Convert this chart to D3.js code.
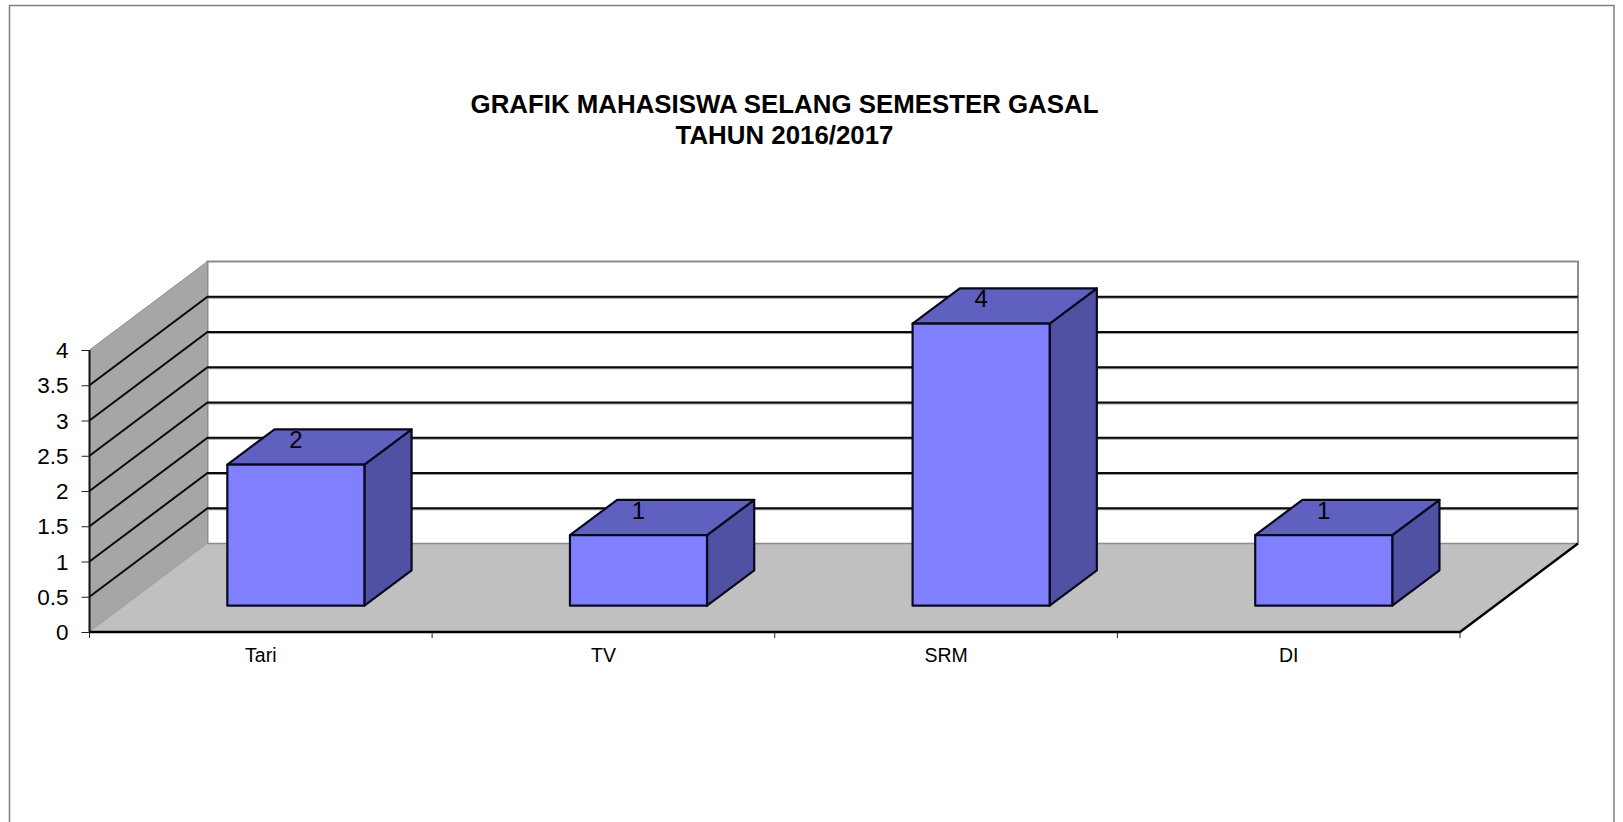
<!DOCTYPE html>
<html>
<head>
<meta charset="utf-8">
<script src="https://cdn.jsdelivr.net/npm/d3@7"></script>
<style>
  html, body { margin: 0; padding: 0; background: #fff; overflow: hidden; }
  svg { display: block; font-family: "Liberation Sans", Arial, sans-serif; }
</style>
</head>
<body>
<svg id="chart"></svg>
<script>
// Chart data
const categories = ['Tari', 'TV', 'SRM', 'DI'];
const values = [2, 1, 4, 1];
const yTicks = [0, 0.5, 1, 1.5, 2, 2.5, 3, 3.5, 4];
const titleLines = ['GRAFIK MAHASISWA SELANG SEMESTER GASAL', 'TAHUN 2016/2017'];

const WIDTH = 1623, HEIGHT = 822;

// Front plane of the plot and the oblique depth of the 3D box
const plot = { left: 89.5, right: 1460, top: 350, bottom: 632 };
const DEPTH = { x: 118, y: -88.5 };
const BAR_FRONT = 0.297, BAR_DEPTH = 0.4;

const svg = d3.select('#chart')
  .attr('width', WIDTH)
  .attr('height', HEIGHT)
  .attr('viewBox', `0 0 ${WIDTH} ${HEIGHT}`);

const x = d3.scaleBand().domain(categories).range([plot.left, plot.right]);
const y = d3.scaleLinear().domain([0, 4]).range([plot.bottom, plot.top]);
const line = d3.line();

// Outer chart frame, the bottom edge falls outside the picture
svg.append('path')
  .attr('d', line([[9.5, HEIGHT], [9.5, 5.5], [1614, 5.5], [1614, HEIGHT]]))
  .attr('fill', 'none')
  .attr('stroke', '#808080')
  .attr('stroke-width', 1.5);

// Title
svg.append('text')
  .attr('text-anchor', 'middle')
  .attr('font-size', 25.85)
  .attr('font-weight', 'bold')
  .attr('fill', '#000')
  .selectAll('tspan')
  .data(titleLines)
  .enter().append('tspan')
  .attr('x', 784.5)
  .attr('y', (d, i) => 112.7 + i * 31)
  .text(d => d);

// Back wall
const back = { left: plot.left + DEPTH.x, right: plot.right + DEPTH.x };
svg.append('path')
  .attr('d', line([
    [back.left, y(0) + DEPTH.y], [back.left, y(4) + DEPTH.y],
    [back.right, y(4) + DEPTH.y], [back.right, y(0) + DEPTH.y]
  ]))
  .attr('fill', '#fff')
  .attr('stroke', '#8c8c8c')
  .attr('stroke-width', 2);

// Side wall
svg.append('path')
  .attr('d', line([
    [plot.left, y(0)], [plot.left, y(4)],
    [back.left, y(4) + DEPTH.y], [back.left, y(0) + DEPTH.y]
  ]) + 'Z')
  .attr('fill', '#a6a6a6')
  .attr('stroke', '#8c8c8c')
  .attr('stroke-width', 1);

// Floor
svg.append('path')
  .attr('d', line([
    [plot.left, y(0)], [back.left, y(0) + DEPTH.y],
    [back.right, y(0) + DEPTH.y], [plot.right, y(0)]
  ]) + 'Z')
  .attr('fill', '#c0c0c0');

svg.append('path')
  .attr('d', line([[back.left, y(0) + DEPTH.y], [back.right, y(0) + DEPTH.y]]))
  .attr('stroke', '#8c8c8c')
  .attr('stroke-width', 1.5);

// Gridlines run along the side wall and then the back wall,
// the back part has a soft grey edge under the black line
const gridTicks = yTicks.filter(d => d > 0 && d < 4);

svg.append('g')
  .selectAll('path')
  .data(gridTicks)
  .enter().append('path')
  .attr('d', d => line([[back.left, y(d) + DEPTH.y + 0.7], [back.right, y(d) + DEPTH.y + 0.7]]))
  .attr('stroke', '#999')
  .attr('stroke-width', 2.4);

svg.append('g')
  .selectAll('path')
  .data(gridTicks)
  .enter().append('path')
  .attr('d', d => line([
    [plot.left, y(d)], [back.left, y(d) + DEPTH.y], [back.right, y(d) + DEPTH.y]
  ]))
  .attr('fill', 'none')
  .attr('stroke', '#0a0a0a')
  .attr('stroke-width', 2);

// Outer floor edges
svg.append('path')
  .attr('d', line([[plot.left, y(0)], [plot.right, y(0)], [back.right, y(0) + DEPTH.y]]))
  .attr('fill', 'none')
  .attr('stroke', '#000')
  .attr('stroke-width', 2.4);

svg.append('path')
  .attr('d', line([[plot.left, y(4)], [plot.left, y(0)]]))
  .attr('stroke', '#111')
  .attr('stroke-width', 2);

// Bars, each one with front, top and side faces
const bw = x.bandwidth() * 0.4;
const barX = d => x(d) + (x.bandwidth() - bw) / 2 + DEPTH.x * BAR_FRONT;
const baseY = y(0) + DEPTH.y * BAR_FRONT;
const dx = DEPTH.x * BAR_DEPTH, dy = DEPTH.y * BAR_DEPTH;
const barTop = v => baseY - (y(0) - y(v));

const bars = svg.append('g')
  .selectAll('g')
  .data(categories.map((c, i) => ({ name: c, value: values[i] })))
  .enter().append('g')
  .attr('stroke', '#080820')
  .attr('stroke-width', 2.2)
  .attr('stroke-linejoin', 'round');

bars.append('path')
  .attr('fill', '#5151a4')
  .attr('d', d => line([
    [barX(d.name) + bw, baseY], [barX(d.name) + bw, barTop(d.value)],
    [barX(d.name) + bw + dx, barTop(d.value) + dy], [barX(d.name) + bw + dx, baseY + dy]
  ]) + 'Z');

bars.append('path')
  .attr('fill', '#6060c0')
  .attr('d', d => line([
    [barX(d.name), barTop(d.value)], [barX(d.name) + dx, barTop(d.value) + dy],
    [barX(d.name) + bw + dx, barTop(d.value) + dy], [barX(d.name) + bw, barTop(d.value)]
  ]) + 'Z');

bars.append('rect')
  .attr('fill', '#8080ff')
  .attr('x', d => barX(d.name))
  .attr('y', d => barTop(d.value))
  .attr('width', bw)
  .attr('height', d => baseY - barTop(d.value));

// Data labels on the top faces
bars.append('text')
  .attr('x', d => barX(d.name) + bw / 2)
  .attr('y', d => barTop(d.value) + dy + 19)
  .attr('text-anchor', 'middle')
  .attr('font-size', 24)
  .attr('stroke', 'none')
  .attr('fill', '#000')
  .text(d => d.value);

// Value axis
const yAxis = svg.append('g')
  .attr('transform', `translate(${plot.left},0)`)
  .call(d3.axisLeft(y).tickValues(yTicks).tickFormat(d3.format('')).tickSize(8).tickPadding(13));
yAxis.select('.domain').remove();
yAxis.selectAll('line').attr('stroke', '#222').attr('stroke-width', 1);
yAxis.selectAll('text')
  .attr('dy', '0.34em')
  .attr('font-family', '"Liberation Sans", Arial, sans-serif')
  .attr('font-size', 22.5)
  .attr('fill', '#000');

// Category axis, ticks sit on the band boundaries
const xAxis = svg.append('g')
  .attr('transform', `translate(0,${plot.bottom})`)
  .call(d3.axisBottom(x).tickSize(0).tickPadding(16));
xAxis.select('.domain').remove();
xAxis.selectAll('text')
  .attr('font-family', '"Liberation Sans", Arial, sans-serif')
  .attr('font-size', 19.5)
  .attr('fill', '#000');
xAxis.selectAll('line.boundary')
  .data(categories.map(c => x(c)).concat(plot.right))
  .enter().append('line')
  .attr('class', 'boundary')
  .attr('x1', d => d)
  .attr('x2', d => d)
  .attr('y2', 6)
  .attr('stroke', '#222');
</script>
</body>
</html>
